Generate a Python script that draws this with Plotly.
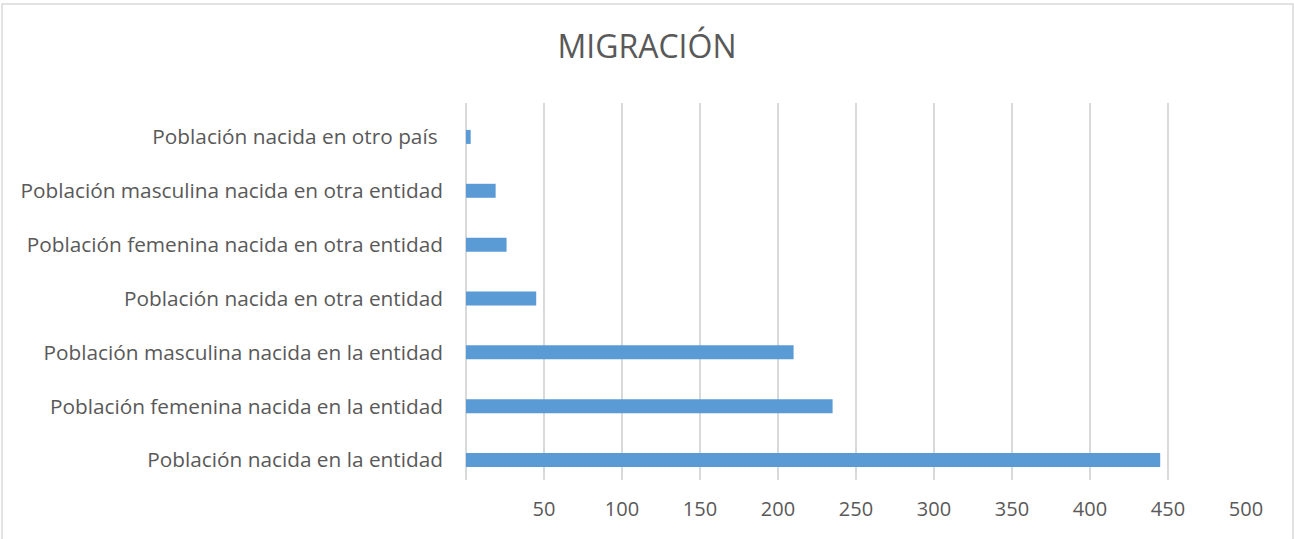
import plotly.graph_objects as go

categorias = [
    "Población nacida en la entidad",
    "Población femenina nacida en la entidad",
    "Población masculina nacida en la entidad",
    "Población nacida en otra entidad",
    "Población femenina nacida en otra entidad",
    "Población masculina nacida en otra entidad",
    "Población nacida en otro país ",
]
valores = [445, 235, 210, 45, 26, 19, 3]
x_ticks = [50, 100, 150, 200, 250, 300, 350, 400, 450, 500]

TEXT = "#595959"
GRID = "#D9D9D9"
BAR = "#5B9BD5"
FONT = "Open Sans, sans-serif"

fig = go.Figure(go.Bar(
    x=valores, y=categorias, orientation="h",
    marker=dict(color=BAR, line=dict(width=0)),
    hoverinfo="x+y",
))

fig.update_layout(
    width=1294, height=539,
    paper_bgcolor="white", plot_bgcolor="white",
    margin=dict(l=466, r=48, t=103, b=59, autoexpand=False),
    font=dict(family=FONT, color=TEXT, size=20),
    title=dict(text="MIGRACIÓN", x=0.5, xref="container", xanchor="center",
               y=1 - 47 / 539, yref="container", yanchor="middle",
               font=dict(size=32, color=TEXT, family=FONT)),
    bargap=0.74,
    showlegend=False,
)

fig.update_xaxes(
    range=[0, 500], tickvals=x_ticks, showgrid=True,
    gridcolor=GRID, gridwidth=2, zeroline=True, zerolinecolor=GRID,
    zerolinewidth=2, showline=False, ticks="", ticklabelstandoff=15,
    tickfont=dict(size=20, color=TEXT),
)
fig.update_yaxes(
    range=[-0.37, 6.63], showgrid=False, zeroline=False, showline=False,
    ticks="", ticklabelstandoff=22, tickfont=dict(size=20.8, color=TEXT),
)

# light border round the whole chart
x0 = (2 - 466) / 780
x1 = (1293 - 466) / 780
y1 = (480 - 4) / 377
y0 = (480 - 560) / 377
fig.add_shape(type="rect", xref="paper", yref="paper",
              x0=x0, x1=x1, y0=y0, y1=y1,
              line=dict(color=GRID, width=1.5), layer="below")

fig.write_html("out.html", config={"displayModeBar": False},
               post_script="document.body.style.margin='0';")
